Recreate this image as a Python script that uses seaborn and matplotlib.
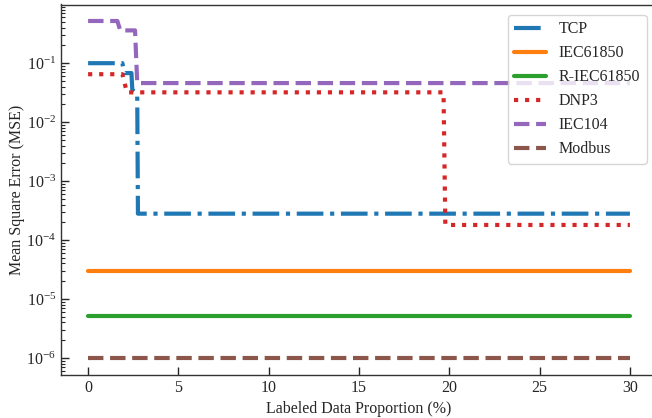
import numpy as np
import pandas as pd
import matplotlib
matplotlib.use("Agg")
import matplotlib.pyplot as plt
import matplotlib.ticker as mticker
import seaborn as sns

# ---- data ----
tcp_x = [0, 1.9, 2.0, 2.4, 2.45, 2.72, 2.76, 30]
tcp_y = [0.1, 0.1, 0.068, 0.068, 0.035, 0.03, 2.8e-4, 2.8e-4]

iec61850_x = [0, 30]
iec61850_y = [3.0e-5, 3.0e-5]

riec61850_x = [0, 30]
riec61850_y = [5.1e-6, 5.1e-6]

dnp3_x = [0, 1.9, 2.15, 19.68, 19.78, 30]
dnp3_y = [0.065, 0.065, 0.032, 0.032, 1.8e-4, 1.8e-4]

iec104_x = [0, 1.62, 1.78, 2.6, 2.72, 30]
iec104_y = [0.52, 0.52, 0.36, 0.36, 0.046, 0.046]

modbus_x = [0, 30]
modbus_y = [1.0e-6, 1.0e-6]

series_names = ["TCP", "IEC61850", "R-IEC61850", "DNP3", "IEC104", "Modbus"]
series_x = [tcp_x, iec61850_x, riec61850_x, dnp3_x, iec104_x, modbus_x]
series_y = [tcp_y, iec61850_y, riec61850_y, dnp3_y, iec104_y, modbus_y]
styles = ["-.", "-", "-", ":", "--", "--"]

sns.set_style("ticks")
plt.rcParams["font.family"] = ["Liberation Serif", "DejaVu Serif"]
plt.rcParams["mathtext.fontset"] = "stix"
plt.rcParams["font.size"] = 11.5

fig = plt.figure(figsize=(6.52, 4.18), dpi=100)
ax = fig.add_axes([61 / 652, 43 / 418, (657 - 61) / 652, (375 - 4.5) / 418])

palette = sns.color_palette("tab10")
for i, (name, xs, ys, ls) in enumerate(zip(series_names, series_x, series_y, styles)):
    df = pd.DataFrame({"x": xs, "y": ys})
    sns.lineplot(data=df, x="x", y="y", ax=ax, color=palette[i], linestyle=ls,
                 linewidth=3, label=name, estimator=None, sort=False)

ax.set_yscale("log")
ax.set_xlim(-1.5, 31.5)
ax.set_ylim(10 ** -6.29, 0.99)
ax.yaxis.set_minor_formatter(mticker.NullFormatter())
ax.set_xticks([0, 5, 10, 15, 20, 25, 30])
ax.set_xlabel("Labeled Data Proportion (%)", fontsize=11.5)
ax.set_ylabel("Mean Square Error (MSE)", fontsize=11.5, labelpad=1)
ax.tick_params(axis="both", which="both", direction="in", labelsize=11.5)
ax.tick_params(axis="both", which="major", length=6, width=1)
ax.tick_params(axis="y", which="minor", length=3, width=0.8)
for s in ax.spines.values():
    s.set_visible(True)
    s.set_color("#333333")
    s.set_linewidth(1.0)

leg = ax.legend(loc="upper right", fontsize=11.5, frameon=True, fancybox=True,
                framealpha=0.8, edgecolor="#cccccc", borderaxespad=0.65)

fig.savefig("out.png", dpi=100)
